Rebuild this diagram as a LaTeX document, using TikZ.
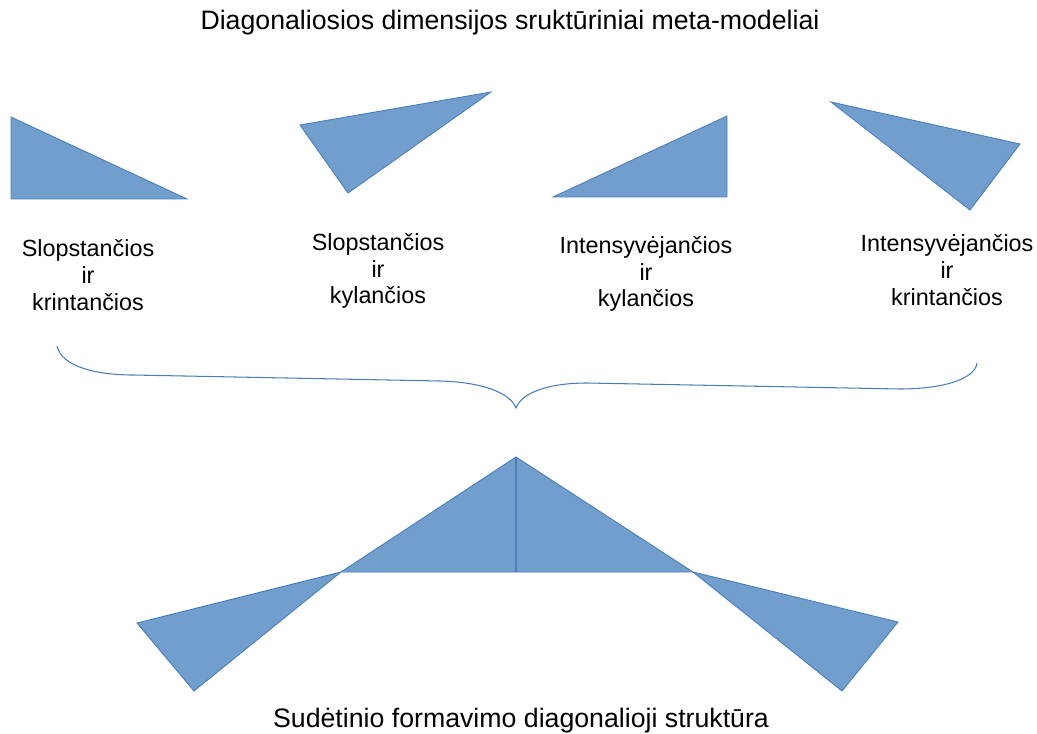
\documentclass[tikz,border=0pt]{standalone}
\usepackage{fontspec}
\setmainfont{Liberation Sans}
\definecolor{trifill}{RGB}{114,158,206}
\definecolor{triline}{RGB}{74,126,187}
\begin{document}
\begin{tikzpicture}[x=0.02cm,y=-0.02cm,
  tri/.style={fill=trifill,draw=triline,line width=0.5pt,line join=miter},
  lbl/.style={align=center,inner sep=0pt,font=\fontsize{13.3}{15.3}\selectfont},
  big/.style={inner sep=0pt,font=\fontsize{15.2}{17}\selectfont}]
\useasboundingbox (0,0) rectangle (1037,733);
% title
\node[big] (title) at (510,23) {Diagonaliosios dimensijos sruktūriniai meta-modeliai};
% top triangles
\draw[tri] (11,117) -- (11,199) -- (187,199) -- cycle;
\draw[tri] (300,125) -- (491,92) -- (348,193) -- cycle;
\draw[tri] (553,197) -- (727,116) -- (727,197) -- cycle;
\draw[tri] (831,102) -- (1020,144) -- (970,210) -- cycle;
% labels
\node[lbl] (l1) at (88,275) {Slopstančios\\ir\\krintančios};
\node[lbl] (l2) at (378,271) {Slopstančios\\ir\\kylančios};
\node[lbl] (l3) at (646,274) {Intensyvėjančios\\ir\\kylančios};
\node[lbl] (l4) at (947,270) {Intensyvėjančios\\ir\\krintančios};
% brace
\draw[triline,line width=0.6pt] (57,346) .. controls (62,368) and (100,375) .. (133,375)
  -- (440,381) .. controls (480,382) and (510,392) .. (516,408)
  .. controls (522,392) and (550,383) .. (587,383)
  -- (900,389) .. controls (940,389) and (975,380) .. (977,363);
% bottom structure
\draw[tri] (341,572) -- (516,457) -- (693,572) -- cycle;
\draw[triline,line width=0.6pt] (516,457) -- (516,572);
\draw[tri] (341,572) -- (137,623) -- (194,691) -- cycle;
\draw[tri] (693,572) -- (898,622) -- (842,691) -- cycle;
\node[big] (bottom) at (521,721) {Sudėtinio formavimo diagonalioji struktūra};
\end{tikzpicture}
\end{document}
